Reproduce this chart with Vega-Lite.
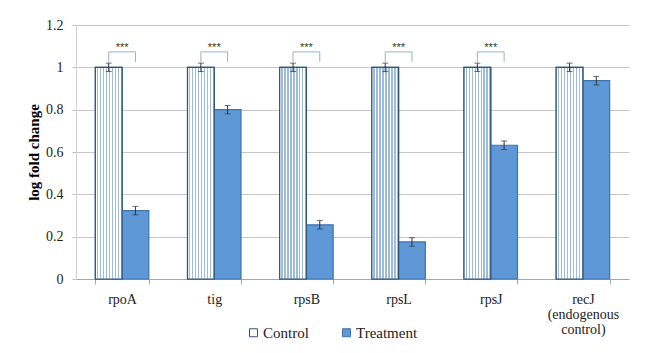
{
  "$schema": "https://vega.github.io/schema/vega-lite/v6.json",
  "width": 553,
  "height": 254,
  "autosize": {"type": "none"},
  "padding": {"left": 76, "top": 25, "right": 25, "bottom": 74},
  "background": "white",
  "config": {"view": {"stroke": null}, "font": "'Liberation Serif', 'Times New Roman', serif"},
  "datasets": {
    "bars": [
      {"gene": "rpoA", "series": "Control", "value": 1, "lo": 0.98, "hi": 1.02},
      {"gene": "rpoA", "series": "Treatment", "value": 0.323, "lo": 0.303, "hi": 0.343},
      {"gene": "tig", "series": "Control", "value": 1, "lo": 0.98, "hi": 1.02},
      {"gene": "tig", "series": "Treatment", "value": 0.8, "lo": 0.78, "hi": 0.82},
      {"gene": "rpsB", "series": "Control", "value": 1, "lo": 0.98, "hi": 1.02},
      {"gene": "rpsB", "series": "Treatment", "value": 0.256, "lo": 0.236, "hi": 0.276},
      {"gene": "rpsL", "series": "Control", "value": 1, "lo": 0.98, "hi": 1.02},
      {"gene": "rpsL", "series": "Treatment", "value": 0.175, "lo": 0.155, "hi": 0.195},
      {"gene": "rpsJ", "series": "Control", "value": 1, "lo": 0.98, "hi": 1.02},
      {"gene": "rpsJ", "series": "Treatment", "value": 0.632, "lo": 0.612, "hi": 0.652},
      {"gene": "recJ (endogenous control)", "series": "Control", "value": 1, "lo": 0.98, "hi": 1.02},
      {"gene": "recJ (endogenous control)", "series": "Treatment", "value": 0.937, "lo": 0.917, "hi": 0.957}
    ],
    "brackets": [
      {"gene": "rpoA", "series": "Control", "value": 1.025, "step": 1},
      {"gene": "rpoA", "series": "Control", "value": 1.073, "step": 2},
      {"gene": "rpoA", "series": "Treatment", "value": 1.073, "step": 3},
      {"gene": "rpoA", "series": "Treatment", "value": 1.025, "step": 4},
      {"gene": "tig", "series": "Control", "value": 1.025, "step": 1},
      {"gene": "tig", "series": "Control", "value": 1.073, "step": 2},
      {"gene": "tig", "series": "Treatment", "value": 1.073, "step": 3},
      {"gene": "tig", "series": "Treatment", "value": 1.025, "step": 4},
      {"gene": "rpsB", "series": "Control", "value": 1.025, "step": 1},
      {"gene": "rpsB", "series": "Control", "value": 1.073, "step": 2},
      {"gene": "rpsB", "series": "Treatment", "value": 1.073, "step": 3},
      {"gene": "rpsB", "series": "Treatment", "value": 1.025, "step": 4},
      {"gene": "rpsL", "series": "Control", "value": 1.025, "step": 1},
      {"gene": "rpsL", "series": "Control", "value": 1.073, "step": 2},
      {"gene": "rpsL", "series": "Treatment", "value": 1.073, "step": 3},
      {"gene": "rpsL", "series": "Treatment", "value": 1.025, "step": 4},
      {"gene": "rpsJ", "series": "Control", "value": 1.025, "step": 1},
      {"gene": "rpsJ", "series": "Control", "value": 1.073, "step": 2},
      {"gene": "rpsJ", "series": "Treatment", "value": 1.073, "step": 3},
      {"gene": "rpsJ", "series": "Treatment", "value": 1.025, "step": 4}
    ],
    "stars": [
      {"gene": "rpoA", "value": 1.092, "label": "***"},
      {"gene": "tig", "value": 1.092, "label": "***"},
      {"gene": "rpsB", "value": 1.092, "label": "***"},
      {"gene": "rpsL", "value": 1.092, "label": "***"},
      {"gene": "rpsJ", "value": 1.092, "label": "***"}
    ]
  },
  "data": {"name": "bars"},
  "encoding": {
    "x": {
      "field": "gene",
      "type": "nominal",
      "sort": ["rpoA", "tig", "rpsB", "rpsL", "rpsJ", "recJ (endogenous control)"],
      "scale": {"paddingInner": 0.42, "paddingOuter": 0.21},
      "axis": {
        "title": null,
        "labelAngle": 0,
        "labelFontSize": 14,
        "labelColor": "#222222",
        "labelPadding": 8,
        "labelLineHeight": 15,
        "labelExpr": "datum.label == 'recJ (endogenous control)' ? ['recJ', '(endogenous', 'control)'] : datum.label",
        "tickBand": "extent",
        "tickSize": 5,
        "tickColor": "#a6a6a6",
        "domainColor": "#a6a6a6",
        "grid": false
      }
    }
  },
  "layer": [
    {
      "mark": {"type": "bar", "strokeWidth": 1.2},
      "encoding": {
        "xOffset": {"field": "series", "type": "nominal", "sort": ["Control", "Treatment"], "scale": {"paddingInner": 0, "paddingOuter": 0}},
        "y": {
          "field": "value",
          "type": "quantitative",
          "scale": {"domain": [0, 1.2]},
          "axis": {
            "title": "log fold change",
            "titleFontSize": 15,
            "titleFontWeight": "bold",
            "titleColor": "#000000",
            "titlePadding": 4,
            "labelFontSize": 14,
            "labelColor": "#222222",
            "labelPadding": 9,
            "tickSize": 4,
            "tickColor": "#bfbfbf",
            "domainColor": "#d0d0d0",
            "gridColor": "#c6c6c6",
            "values": [0, 0.2, 0.4, 0.6, 0.8, 1, 1.2],
            "format": "~g"
          }
        },
        "color": {
          "field": "series",
          "type": "nominal",
          "scale": {"domain": ["Control", "Treatment"], "range": ["#ffffff", "#5e98d6"]},
          "legend": {
            "title": null,
            "orient": "none",
            "legendX": 170,
            "legendY": 300,
            "direction": "horizontal",
            "symbolType": "square",
            "symbolSize": 64,
            "symbolStrokeColor": "#2f557f",
            "symbolStrokeWidth": 1,
            "labelFontSize": 15,
            "labelColor": "#222222",
            "labelOffset": 2,
            "columnPadding": 30
          }
        },
        "stroke": {
          "field": "series",
          "type": "nominal",
          "scale": {"domain": ["Control", "Treatment"], "range": ["#2f557f", "#3d72aa"]},
          "legend": null
        }
      }
    },
    {
      "transform": [{"filter": "datum.series == 'Control'"}],
      "mark": {
        "type": "bar",
        "stroke": "#2f557f",
        "strokeWidth": 1.2,
        "fill": {
          "gradient": "linear",
          "x1": 0, "x2": 1, "y1": 0, "y2": 0,
          "stops": [
            {"offset": 0, "color": "#ffffff"}, {"offset": 0.06, "color": "#ffffff"}, {"offset": 0.06, "color": "#9dbcd9"}, {"offset": 0.111, "color": "#9dbcd9"},
            {"offset": 0.111, "color": "#ffffff"}, {"offset": 0.172, "color": "#ffffff"}, {"offset": 0.172, "color": "#9dbcd9"}, {"offset": 0.222, "color": "#9dbcd9"},
            {"offset": 0.222, "color": "#ffffff"}, {"offset": 0.283, "color": "#ffffff"}, {"offset": 0.283, "color": "#9dbcd9"}, {"offset": 0.333, "color": "#9dbcd9"},
            {"offset": 0.333, "color": "#ffffff"}, {"offset": 0.394, "color": "#ffffff"}, {"offset": 0.394, "color": "#9dbcd9"}, {"offset": 0.444, "color": "#9dbcd9"},
            {"offset": 0.444, "color": "#ffffff"}, {"offset": 0.506, "color": "#ffffff"}, {"offset": 0.506, "color": "#9dbcd9"}, {"offset": 0.556, "color": "#9dbcd9"},
            {"offset": 0.556, "color": "#ffffff"}, {"offset": 0.617, "color": "#ffffff"}, {"offset": 0.617, "color": "#9dbcd9"}, {"offset": 0.667, "color": "#9dbcd9"},
            {"offset": 0.667, "color": "#ffffff"}, {"offset": 0.728, "color": "#ffffff"}, {"offset": 0.728, "color": "#9dbcd9"}, {"offset": 0.778, "color": "#9dbcd9"},
            {"offset": 0.778, "color": "#ffffff"}, {"offset": 0.839, "color": "#ffffff"}, {"offset": 0.839, "color": "#9dbcd9"}, {"offset": 0.889, "color": "#9dbcd9"},
            {"offset": 0.889, "color": "#ffffff"}, {"offset": 0.95, "color": "#ffffff"}, {"offset": 0.95, "color": "#9dbcd9"}, {"offset": 1, "color": "#9dbcd9"}
          ]
        }
      },
      "encoding": {
        "xOffset": {"field": "series", "type": "nominal", "sort": ["Control", "Treatment"]},
        "y": {"field": "value", "type": "quantitative"}
      }
    },
    {
      "mark": {"type": "rule", "color": "#333333", "strokeWidth": 1},
      "encoding": {
        "xOffset": {"field": "series", "type": "nominal", "sort": ["Control", "Treatment"]},
        "y": {"field": "lo", "type": "quantitative"},
        "y2": {"field": "hi"}
      }
    },
    {
      "mark": {"type": "tick", "orient": "horizontal", "color": "#333333", "size": 6, "thickness": 1},
      "encoding": {
        "xOffset": {"field": "series", "type": "nominal", "sort": ["Control", "Treatment"]},
        "y": {"field": "lo", "type": "quantitative"}
      }
    },
    {
      "mark": {"type": "tick", "orient": "horizontal", "color": "#333333", "size": 6, "thickness": 1},
      "encoding": {
        "xOffset": {"field": "series", "type": "nominal", "sort": ["Control", "Treatment"]},
        "y": {"field": "hi", "type": "quantitative"}
      }
    },
    {
      "data": {"name": "brackets"},
      "mark": {"type": "line", "color": "#93b4cc", "strokeWidth": 1},
      "encoding": {
        "xOffset": {"field": "series", "type": "nominal", "sort": ["Control", "Treatment"]},
        "y": {"field": "value", "type": "quantitative"},
        "detail": {"field": "gene"},
        "order": {"field": "step", "type": "quantitative"}
      }
    },
    {
      "data": {"name": "stars"},
      "mark": {"type": "text", "font": "'Liberation Sans', Arial, sans-serif", "fontSize": 11, "color": "#333333", "baseline": "middle"},
      "encoding": {
        "y": {"field": "value", "type": "quantitative"},
        "text": {"field": "label"}
      }
    }
  ]
}
